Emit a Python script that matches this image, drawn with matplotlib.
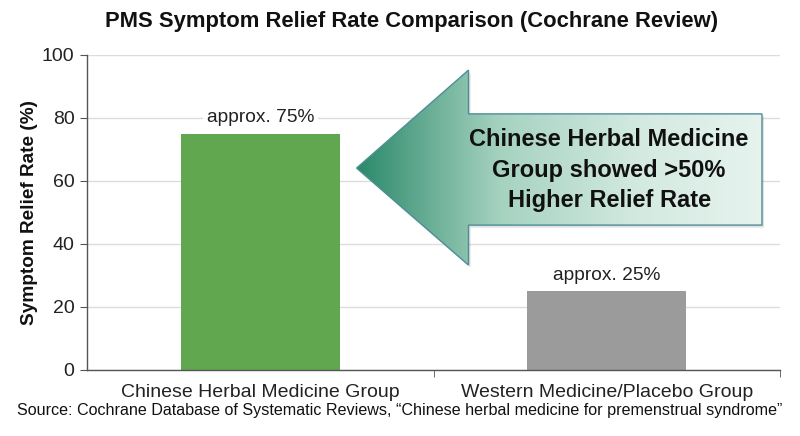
import matplotlib
matplotlib.use("Agg")
import matplotlib.pyplot as plt
import numpy as np
from matplotlib.patches import Polygon
from matplotlib.colors import LinearSegmentedColormap

plt.rcParams['font.family'] = ['Liberation Sans', 'DejaVu Sans']

categories = ["Chinese Herbal Medicine Group", "Western Medicine/Placebo Group"]
values = [75, 25]
value_labels = ["approx. 75%", "approx. 25%"]
bar_colors = ["#60a750", "#9b9b9b"]
yticks = [0, 20, 40, 60, 80, 100]
title = "PMS Symptom Relief Rate Comparison (Cochrane Review)"
ylabel = "Symptom Relief Rate (%)"
source = "Source: Cochrane Database of Systematic Reviews, \u201cChinese herbal medicine for premenstrual syndrome\u201d"
arrow_text = "Chinese Herbal Medicine\nGroup showed >50%\nHigher Relief Rate"

fig = plt.figure(figsize=(8, 4.36), dpi=100)
ax = fig.add_axes([0.10875, 0.1514, 0.86625, 0.7225])

x = np.arange(len(categories))
ax.bar(x, values, width=0.46, color=bar_colors, zorder=2)
ax.set_xlim(-0.5, 1.5)
ax.set_ylim(0, 100)
ax.set_yticks(yticks)
ax.yaxis.grid(True, color="#dcdcdc", linewidth=1.0, zorder=0)
ax.set_axisbelow(True)
for s in ["top", "right"]:
    ax.spines[s].set_visible(False)
for s in ["left", "bottom"]:
    ax.spines[s].set_color("#555555")
    ax.spines[s].set_linewidth(1.0)
ax.tick_params(axis="y", length=5, color="#555555", labelsize=14, labelcolor="#222222", pad=4)
ax.set_xticks(x)
ax.set_xticklabels(categories, fontsize=14, color="#222222")
ax.tick_params(axis="x", which="major", length=0, pad=10)
ax.set_xticks([0.5, 1.5], minor=True)
ax.tick_params(axis="x", which="minor", length=5, color="#555555")
ax.set_ylabel(ylabel, fontsize=13.7, fontweight="bold", color="#111111", labelpad=3)

for xi, v, lab in zip(x, values, value_labels):
    ax.text(xi, v + 5, lab, ha="center", va="center", fontsize=13.8, color="#222222",
            bbox=dict(boxstyle="square,pad=0.2", facecolor="white", edgecolor="none"), zorder=3)

# Gradient arrow annotation
arrow_pts = np.array([
    [0.278, 64.1],
    [0.601, 95.2],
    [0.601, 81.3],
    [1.448, 81.3],
    [1.448, 46.0],
    [0.601, 46.0],
    [0.601, 33.3],
])
shadow = Polygon(arrow_pts + np.array([0.006, -0.8]), closed=True, facecolor="#000000",
                 alpha=0.12, edgecolor="none", zorder=3)
ax.add_patch(shadow)
poly = Polygon(arrow_pts, closed=True, facecolor="none", edgecolor="#4f8e98", linewidth=1.0, zorder=5)
ax.add_patch(poly)
cmap = LinearSegmentedColormap.from_list("arr", [(0, "#2b896a"), (0.35, "#a5d2c0"), (0.7, "#d4eae1"), (1, "#e6f3ee")])
grad = np.linspace(0, 1, 256).reshape(1, -1)
im = ax.imshow(grad, cmap=cmap, extent=[arrow_pts[:, 0].min(), arrow_pts[:, 0].max(),
                                        arrow_pts[:, 1].min(), arrow_pts[:, 1].max()],
               aspect="auto", zorder=4, interpolation="bilinear")
clip = Polygon(arrow_pts, closed=True, transform=ax.transData, facecolor="none", edgecolor="none")
ax.add_patch(clip)
im.set_clip_path(clip)
ax.set_xlim(-0.5, 1.5)
ax.set_ylim(0, 100)
ax.text(1.007, 63.4, arrow_text, ha="center", va="center", fontsize=17, fontweight="bold",
        color="#111111", linespacing=1.42, zorder=6)

fig.text(0.515, 1 - 21 / 436, title, ha="center", va="center", fontsize=15.8, fontweight="bold", color="#111111")
fig.text(0.5, 1 - 410 / 436, source, ha="center", va="center", fontsize=11.6, color="#111111")

fig.savefig("out.png", dpi=100, facecolor="white")
